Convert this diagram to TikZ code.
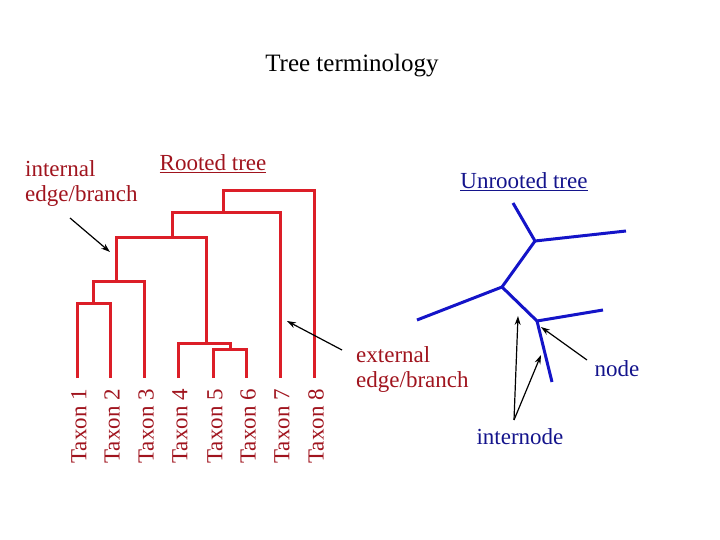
\documentclass[tikz,border=0pt]{standalone}
\usepackage{fontspec}
\usetikzlibrary{arrows.meta}
\setmainfont{Liberation Serif}
\definecolor{rred}{RGB}{220,30,40}
\definecolor{ublue}{RGB}{20,20,200}
\definecolor{tblue}{RGB}{20,20,140}
\definecolor{tred}{RGB}{160,20,30}
\begin{document}
\begin{tikzpicture}[x=1pt,y=-1pt,
 red/.style={draw=rred,line width=3pt},
 blu/.style={draw=ublue,line width=3pt},
 arr/.style={draw=black,line width=1.2pt,-{Stealth[length=9pt,width=6pt]}},
 txt/.style={font=\fontsize{23}{25}\selectfont,inner sep=0pt},
 tax/.style={font=\fontsize{23}{25}\selectfont,text=tred,rotate=90,anchor=east,inner sep=0pt}]
\useasboundingbox (0,0) rectangle (720,540);
\node[txt,font=\fontsize{25}{27}\selectfont] (title) at (352,66) {Tree terminology};
% rooted tree
\foreach \i/\x in {1/77,2/110,3/144,4/178,5/213,6/246,7/280,8/314}
  {\coordinate (l\i) at (\x,378);
   \node[tax] (t\i) at (\x+2,389) {Taxon \i};}
\draw[red] (l1) |- (93,303) -| (l2);
\draw[red] (93,303) |- (116,281) -| (l3);
\draw[red] (l5) |- (230,349) -| (l6);
\draw[red] (l4) |- (206,343) -| (230,349);
\draw[red] (116,281) |- (172,237) -| (206,343);
\draw[red] (172,237) |- (223,213) -| (l7);
\draw[red] (223,213) |- (314,191) -- (l8);
\node[txt,text=tred] (rt) at (213,164) {\underline{Rooted tree}};
\node[txt,text=tred,align=left,anchor=west] (ie) at (25,184) {internal\\edge/branch};
\coordinate (ia) at (70,218); \coordinate (ib) at (110,252);
\draw[arr] (ia) -- (ib);
\node[txt,text=tred,align=left,anchor=west] (ee) at (356,370) {external\\edge/branch};
\coordinate (ea) at (342,350); \coordinate (eb) at (287,321);
\draw[arr] (ea) -- (eb);
% unrooted tree
\node[txt,text=tblue] (ut) at (524,182) {\underline{Unrooted tree}};
\coordinate (A) at (535,241); \coordinate (B) at (502,287); \coordinate (C) at (537,321);
\draw[blu] (513,203) -- (A) -- (626,231);
\draw[blu] (A) -- (B) -- (417,320);
\draw[blu] (B) -- (C) -- (603,310);
\draw[blu] (C) -- (552,382);
\node[txt,text=tblue] (nd) at (617,369) {node};
\node[txt,text=tblue] (in) at (520,437) {internode};
\coordinate (ia2) at (514,420);
\draw[arr] (ia2) -- (518,316);
\draw[arr] (ia2) -- (541,355);
\draw[arr] (587,360) -- (541,327);
\end{tikzpicture}
\end{document}
